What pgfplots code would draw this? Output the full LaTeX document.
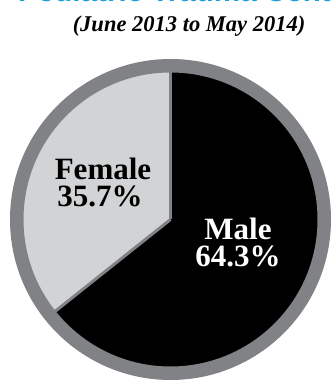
\documentclass[border=0pt]{standalone}
\usepackage{pgfplots}
\pgfplotsset{compat=1.18}
\usepackage{pgfplotstable}
\usepackage{fontspec}
\setmainfont{Liberation Serif}
\newfontfamily\titlefont{Liberation Sans}
\definecolor{ringgray}{HTML}{808285}
\definecolor{femgray}{HTML}{D1D3D4}
\definecolor{ttl}{HTML}{1B9FDB}
\pgfplotstableread{
label value
Male 64.3
Female 35.7
}\piedata
\pgfplotstablegetelem{0}{value}\of\piedata \let\maleval\pgfplotsretval
\pgfplotstablegetelem{1}{value}\of\piedata \let\femval\pgfplotsretval
\pgfmathsetmacro{\angA}{90}
\pgfmathsetmacro{\angB}{90+3.6*\femval}
\pgfmathsetmacro{\angC}{\angB+3.6*\maleval}
\begin{document}
\begin{tikzpicture}
\begin{axis}[x=1pt,y=1pt,xmin=0,xmax=333,ymin=0,ymax=380,
  hide axis, scale only axis, clip=true]
  \fill[femgray] (axis cs:170.5,160.5) -- ++(\angA:148pt) arc[start angle=\angA, end angle=\angB, radius=148pt] -- cycle;
  \fill[black] (axis cs:170.5,160.5) -- ++(\angB:148pt) arc[start angle=\angB, end angle=\angC, radius=148pt] -- cycle;
  \draw[ringgray, line width=2.5pt] (axis cs:170.5,160.5) -- ++(\angA:150pt);
  \draw[ringgray, line width=3pt] (axis cs:170.5,160.5) -- ++(\angB:150pt);
  \draw[ringgray, line width=13.5pt] (axis cs:170.5,160.5) circle[radius=153.75pt];
  \node[anchor=base, font=\fontsize{31}{27}\selectfont\bfseries] at (axis cs:103,200) {Female};
  \node[anchor=base, font=\fontsize{31}{27}\selectfont\bfseries] at (axis cs:100,173) {\femval\%};
  \node[anchor=base, text=white, font=\fontsize{31}{27}\selectfont\bfseries] at (axis cs:238,140) {Male};
  \node[anchor=base, text=white, font=\fontsize{31}{27}\selectfont\bfseries] at (axis cs:238,113.5) {\maleval\%};
  \node[anchor=base, font=\fontsize{22.5}{24}\selectfont\bfseries\itshape] at (axis cs:189,348) {(June 2013 to May 2014)};
  \node[anchor=base west, inner sep=0pt, text=ttl, font=\fontsize{29.6}{30}\selectfont\titlefont\bfseries] at (axis cs:18,378) {Pediatric Trauma Center};
\end{axis}
\pgfresetboundingbox
\useasboundingbox (current axis.south west) rectangle (current axis.north east);
\end{tikzpicture}
\end{document}
